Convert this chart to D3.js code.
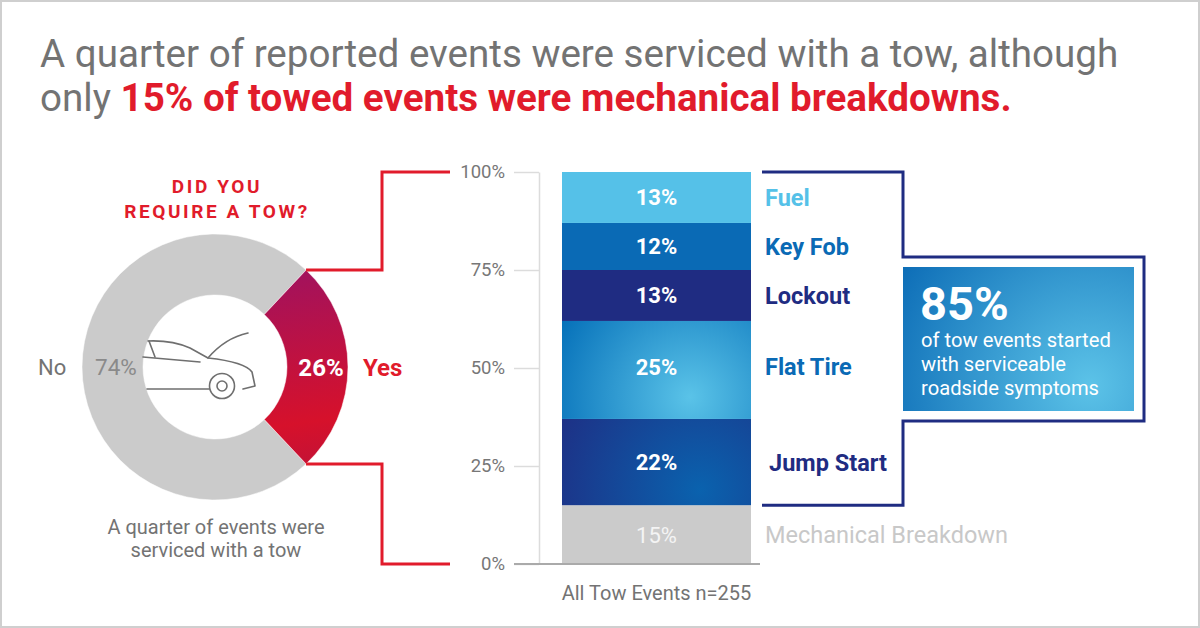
<!DOCTYPE html>
<html>
<head>
<meta charset="utf-8">
<script src="https://cdn.jsdelivr.net/npm/d3@7"></script>
<style>
  html, body { margin: 0; padding: 0; background: #fff; }
  svg { display: block; font-family: Roboto, "Noto Sans", sans-serif; }
</style>
</head>
<body>
<svg id="chart" width="1200" height="628"></svg>
<script>
// donut data
const towAnswers = ["No", "Yes"];
const towShares = [74, 26];

// stacked bar data, bottom to top
const towCategories = ["Mechanical Breakdown", "Jump Start", "Flat Tire", "Lockout", "Key Fob", "Fuel"];
const towValues = [15, 22, 25, 13, 12, 13];
const barGroup = ["All Tow Events n=255"];
const yTicks = [0, 25, 50, 75, 100];

// callout
const serviceableShare = 85;
const calloutLines = ["of tow events started", "with serviceable", "roadside symptoms"];

const RED = "#e11b2b";
const NAVY = "#1f2c82";
const GRAY_TEXT = "#737373";

const svg = d3.select('#chart');
const defs = svg.append('defs');

// frame
svg.append('rect')
  .attr('x', 1).attr('y', 1).attr('width', 1198).attr('height', 626)
  .attr('fill', '#fff').attr('stroke', '#cfcfcf').attr('stroke-width', 2);

//TITLE
const title = svg.append('g').attr('class', 'title');
title.append('text')
  .attr('x', 40).attr('y', 67)
  .attr('font-size', 38.6).attr('fill', GRAY_TEXT)
  .text('A quarter of reported events were serviced with a tow, although');
const t2 = title.append('text')
  .attr('x', 40).attr('y', 111)
  .attr('font-size', 38.6).attr('fill', GRAY_TEXT);
t2.append('tspan').text('only ');
t2.append('tspan').attr('font-weight', 700).attr('fill', RED)
  .text('15% of towed events were mechanical breakdowns.');

//DONUT
const cx = 215, cy = 367;

//GRADIENTS
var yesGrad = defs.append('linearGradient').attr('id', 'yesGrad')
  .attr('gradientUnits', 'userSpaceOnUse')
  .attr('x1', 290 - cx).attr('y1', 275 - cy).attr('x2', 320 - cx).attr('y2', 470 - cy);
yesGrad.append('stop').attr('offset', '0%').attr('stop-color', '#a3125c');
yesGrad.append('stop').attr('offset', '75%').attr('stop-color', '#d6112b');
yesGrad.append('stop').attr('offset', '100%').attr('stop-color', '#c11237');

var addRadial = function (id, gx, gy, r, inner, outer) {
  var g = defs.append('radialGradient').attr('id', id)
    .attr('gradientUnits', 'userSpaceOnUse')
    .attr('cx', gx).attr('cy', gy).attr('r', r);
  g.append('stop').attr('offset', '0%').attr('stop-color', inner);
  g.append('stop').attr('offset', '100%').attr('stop-color', outer);
};
addRadial('flatGrad', 690, 397, 150, '#5ac3e8', '#0570b9');
addRadial('jumpGrad', 700, 490, 170, '#0a62ae', '#1f2c82');
addRadial('calloutGrad', 1090, 385, 230, '#5cc3e8', '#0a6ab5');

// "Yes" centred on 3 o'clock, "No" takes the rest
const yesSpan = towShares[1] / 100 * 2 * Math.PI;
const arcs = d3.pie().sort(null).value(d => d)
  .startAngle(Math.PI / 2 + yesSpan / 2)
  .endAngle(Math.PI / 2 + yesSpan / 2 + 2 * Math.PI)(towShares);
const arc = d3.arc().innerRadius(72).outerRadius(133);
const donut = svg.append('g').attr('transform', 'translate(' + cx + ',' + cy + ')');
donut.selectAll('path')
  .data(arcs)
  .enter()
  .append('path')
  .attr('d', arc)
  .attr('fill', (d, i) => i === 0 ? '#cbcbcb' : 'url(#yesGrad)')
  .attr('stroke', '#fff').attr('stroke-width', 0.5);

// car icon
const car = svg.append('g')
  .attr('fill', 'none').attr('stroke', '#6f6f6f').attr('stroke-width', 1.6)
  .attr('stroke-linecap', 'round').attr('stroke-linejoin', 'round');
car.append('path').attr('d', 'M148,341 Q172,340 190,348 L208,358 Q245,362 252,372 L255,386 L243,389');
car.append('path').attr('d', 'M149,341 L155,357');
car.append('path').attr('d', 'M143,357 L200,362');
car.append('path').attr('d', 'M208,358 Q225,338 248,333');
car.append('path').attr('d', 'M147,389 L209,389');
car.append('circle').attr('cx', 222).attr('cy', 386).attr('r', 12.5);
car.append('circle').attr('cx', 222).attr('cy', 386).attr('r', 5);

// donut labels
svg.append('text').attr('x', 38).attr('y', 375)
  .attr('font-size', 22).attr('fill', GRAY_TEXT).text(towAnswers[0]);
svg.append('text').attr('x', 95).attr('y', 375)
  .attr('font-size', 22.5).attr('fill', '#8a8a8a').text(towShares[0] + '%');
svg.append('text').attr('x', 321).attr('y', 376).attr('text-anchor', 'middle')
  .attr('font-size', 24).attr('font-weight', 700).attr('fill', '#fff').text(towShares[1] + '%');
svg.append('text').attr('x', 363).attr('y', 376)
  .attr('font-size', 24).attr('font-weight', 700).attr('fill', RED).text(towAnswers[1]);

svg.append('text').attr('x', 217).attr('y', 193).attr('text-anchor', 'middle')
  .attr('font-size', 19).attr('font-weight', 700).attr('letter-spacing', 2.6)
  .attr('fill', RED).text('DID YOU');
svg.append('text').attr('x', 217).attr('y', 218).attr('text-anchor', 'middle')
  .attr('font-size', 19).attr('font-weight', 700).attr('letter-spacing', 2.6)
  .attr('fill', RED).text('REQUIRE A TOW?');

svg.append('text').attr('x', 216).attr('y', 534).attr('text-anchor', 'middle')
  .attr('font-size', 20).attr('fill', GRAY_TEXT).text('A quarter of events were');
svg.append('text').attr('x', 216).attr('y', 557).attr('text-anchor', 'middle')
  .attr('font-size', 20).attr('fill', GRAY_TEXT).text('serviced with a tow');

//BAR CHART
const y = d3.scaleLinear().domain([0, 100]).range([564, 172]);
const x = d3.scaleBand().domain(barGroup).range([562, 751]).padding(0);

// red bracket from the Yes slice to the bar
const yesA0 = arcs[1].startAngle, yesA1 = arcs[1].endAngle;
const topPt = [cx + 133 * Math.sin(yesA0), cy - 133 * Math.cos(yesA0)];
const botPt = [cx + 133 * Math.sin(yesA1), cy - 133 * Math.cos(yesA1)];
const redLine = d3.line();
svg.append('path')
  .attr('d', redLine([topPt, [382, topPt[1]], [382, y(100)], [450, y(100)]]))
  .attr('fill', 'none').attr('stroke', RED).attr('stroke-width', 3);
svg.append('path')
  .attr('d', redLine([botPt, [382, botPt[1]], [382, y(0)], [450, y(0)]]))
  .attr('fill', 'none').attr('stroke', RED).attr('stroke-width', 3);

const axis = svg.append('g')
  .attr('transform', 'translate(539,0)')
  .call(d3.axisLeft(y).tickValues(yTicks).tickFormat(d => d + '%')
    .tickSize(25).tickSizeOuter(0).tickPadding(9));
axis.select('.domain').attr('stroke', '#dcdcdc').attr('stroke-width', 1.5);
axis.selectAll('.tick line').attr('stroke', '#dcdcdc').attr('stroke-width', 1.5);
axis.selectAll('.tick text')
  .attr('font-family', 'Roboto, sans-serif').attr('font-size', 18.5).attr('fill', '#777');

const ends = d3.cumsum(towValues);
const segs = towCategories.map((c, i) => ({
  name: c, value: towValues[i], y0: ends[i] - towValues[i], y1: ends[i]
}));
const segFill = {
  'Mechanical Breakdown': '#cbcbcb',
  'Jump Start': 'url(#jumpGrad)',
  'Flat Tire': 'url(#flatGrad)',
  'Lockout': '#1f2c82',
  'Key Fob': '#0a6ab5',
  'Fuel': '#55c1e8'
};
const labelFill = {
  'Mechanical Breakdown': '#c8c8c8',
  'Jump Start': NAVY,
  'Flat Tire': '#0a6ab5',
  'Lockout': NAVY,
  'Key Fob': '#0a6ab5',
  'Fuel': '#55c1e8'
};
var midY = function (d) {
  return d.name === 'Flat Tire' ? y((d.y0 + d.y1) / 2) - 3 : y((d.y0 + d.y1) / 2);
};

const bar = svg.append('g').attr('class', 'bar');
bar.selectAll('rect')
  .data(segs)
  .enter()
  .append('rect')
  .attr('x', x(barGroup[0]))
  .attr('width', x.bandwidth())
  .attr('y', d => y(d.y1))
  .attr('height', d => y(d.y0) - y(d.y1))
  .attr('fill', d => segFill[d.name]);

bar.selectAll('text.val')
  .data(segs)
  .enter()
  .append('text')
  .attr('class', 'val')
  .attr('x', x(barGroup[0]) + x.bandwidth() / 2)
  .attr('y', midY)
  .attr('dy', '0.36em')
  .attr('text-anchor', 'middle')
  .attr('font-size', 22)
  .attr('font-weight', d => d.name === 'Mechanical Breakdown' ? 400 : 700)
  .attr('fill', d => d.name === 'Mechanical Breakdown' ? '#f4f4f4' : '#fff')
  .text(d => d.value + '%');

bar.selectAll('text.cat')
  .data(segs)
  .enter()
  .append('text')
  .attr('class', 'cat')
  .attr('x', d => d.name === 'Jump Start' ? 769 : 765)
  .attr('y', midY)
  .attr('dy', '0.36em')
  .attr('font-size', 23.5)
  .attr('font-weight', d => d.name === 'Mechanical Breakdown' ? 400 : 700)
  .attr('fill', d => labelFill[d.name])
  .text(d => d.name);

// baseline
svg.append('line')
  .attr('x1', 514).attr('x2', 760).attr('y1', y(0)).attr('y2', y(0))
  .attr('stroke', '#aaaaaa').attr('stroke-width', 2);

svg.append('text')
  .attr('x', x(barGroup[0]) + x.bandwidth() / 2).attr('y', 600)
  .attr('text-anchor', 'middle').attr('font-size', 20).attr('fill', GRAY_TEXT)
  .text(barGroup[0]);

//NAVY BRACKET round the serviceable categories
const servTop = y(100), servBot = y(towValues[0]);
svg.append('path')
  .attr('d', d3.line()([[762, servTop], [903, servTop], [903, 257], [1144, 257],
    [1144, 421], [903, 421], [903, servBot], [762, servBot]]))
  .attr('fill', 'none').attr('stroke', NAVY).attr('stroke-width', 3);

//CALLOUT
svg.append('rect')
  .attr('x', 903).attr('y', 267).attr('width', 231).attr('height', 144)
  .attr('fill', 'url(#calloutGrad)');
svg.append('text').attr('x', 920).attr('y', 320)
  .attr('font-size', 47).attr('font-weight', 700).attr('fill', '#fff')
  .text(serviceableShare + '%');
svg.append('g').selectAll('text')
  .data(calloutLines)
  .enter()
  .append('text')
  .attr('x', 921)
  .attr('y', (d, i) => 347 + i * 24)
  .attr('font-size', 20.2).attr('fill', '#fff')
  .text(d => d);
</script>
</body>
</html>
